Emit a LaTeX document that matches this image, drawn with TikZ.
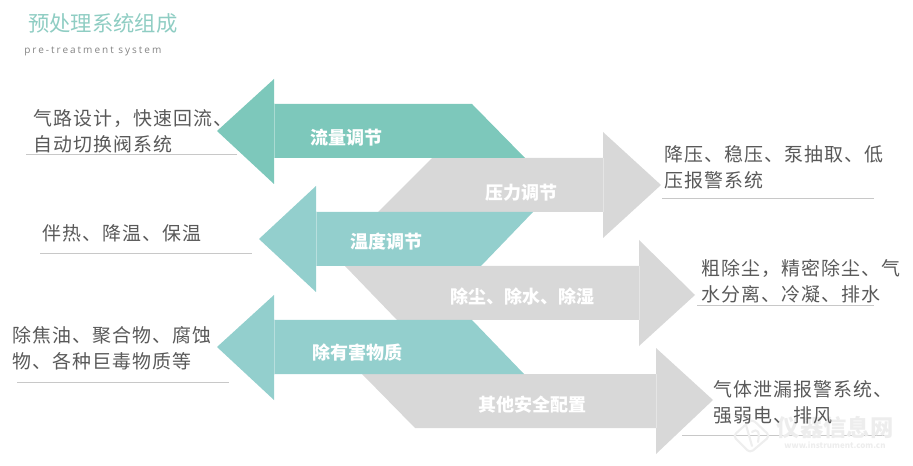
\documentclass[tikz,border=0pt]{standalone}
\usepackage{fontspec}
\setmainfont{Noto Sans CJK SC}[LetterSpace=5.5]
\newfontfamily\cjktight{Noto Sans CJK SC}
\newfontfamily\latinsub{Open Sans}[LetterSpace=20]
\definecolor{cgreen}{HTML}{7DC8BB}
\definecolor{cteal}{HTML}{93CFCD}
\definecolor{cgray}{HTML}{D8D8D8}
\definecolor{ctext}{HTML}{595959}
\definecolor{crule}{HTML}{C8C8C8}
\definecolor{ctitle}{HTML}{8FCDC3}
\tikzset{
  x=0.75pt,y=-0.75pt,
  body/.style={anchor=west,inner sep=0pt,align=left,text=ctext,font=\fontsize{14.2}{19.5}\selectfont},
  lab/.style={inner sep=0pt,text=white,font=\cjktight\fontsize{13.5}{16}\selectfont\bfseries},
  seam/.style={draw=white,draw opacity=.35,line width=.5pt},
  rulel/.style={draw=crule,line width=.75pt},
  wmark/.style={draw=gray!13,line width=1.6pt,line cap=round,line join=round},
}
\begin{document}
\begin{tikzpicture}
\useasboundingbox (0,0) rectangle (913,466);
% gray arrows
\fill[cgray] (432,158) -- (603,158) -- (603,132) -- (661,185) -- (603,238) -- (603,212) -- (378,212) -- cycle;
\draw[seam] (603,158) -- (603,212);
\fill[cgray] (345,266) -- (639,266) -- (639,240) -- (695,295) -- (639,346) -- (639,320) -- (397,320) -- cycle;
\draw[seam] (639,266) -- (639,320);
\fill[cgray] (362,374) -- (656,374) -- (656,348) -- (713,400) -- (656,454) -- (656,428) -- (415,428) -- cycle;
\draw[seam] (656,374) -- (656,428);
% coloured arrows
\fill[cgreen] (217,131) -- (274,79) -- (274,104) -- (472,104) -- (525,158) -- (274,158) -- (274,184) -- cycle;
\draw[seam] (274,104) -- (274,158);
\fill[cteal] (259,239) -- (316,186) -- (316,212) -- (533,212) -- (481,266) -- (316,266) -- (316,292) -- cycle;
\draw[seam] (316,212) -- (316,266);
\fill[cteal] (217,347) -- (274,295) -- (274,320) -- (472,320) -- (524,374) -- (274,374) -- (274,400) -- cycle;
\draw[seam] (274,320) -- (274,374);
% rules
\draw[rulel] (26,154.5) -- (237,154.5);
\draw[rulel] (40,254) -- (252,254);
\draw[rulel] (17,382) -- (229,382);
\draw[rulel] (662,198.5) -- (874,198.5);
\draw[rulel] (697,306) -- (874,306);
\draw[rulel] (682,435.5) -- (890,435.5);
% watermark (under the text)
\draw[wmark,rounded corners=3pt] (752,419) -- (770,436) -- (750,453) -- (733,436) -- cycle;
\draw[wmark] (746,425) -- (752,446) (752,432) .. controls (758,428) and (760,432) .. (758,442);
\node[inner sep=0pt,text=gray!14,font=\cjktight\fontsize{17.5}{19}\selectfont\bfseries] (wm) at (835,428) {仪器信息网};
\node[inner sep=0pt,text=gray!14,font=\cjktight\fontsize{6}{7}\selectfont\bfseries] (wmurl) at (835,445) {www.instrument.com.cn};
% titles
\node[anchor=west,inner sep=0pt,text=ctitle,font=\cjktight\fontsize{16}{18}\selectfont] (title) at (28,23) {预处理系统组成};
\node[anchor=west,inner sep=0pt,text=ctext!75,font=\latinsub\fontsize{7.5}{9}\selectfont] (subtitle) at (24,51) {pre-treatment system};
% arrow labels
\node[lab] (l1) at (346.5,138) {流量调节};
\node[lab] (l2) at (521.5,192.5) {压力调节};
\node[lab] (l3) at (386.5,242) {温度调节};
\node[lab] (l4) at (522,297) {除尘、除水、除湿};
\node[lab] (l5) at (357,353) {除有害物质};
\node[lab] (l6) at (532,405) {其他安全配置};
% descriptions
\node[body] (d1) at (33,131) {气路设计，快速回流、\\自动切换阀系统};
\node[body] (d2) at (42,233.5) {伴热、降温、保温};
\node[body] (d3) at (12,348) {除焦油、聚合物、腐蚀\\物、各种巨毒物质等};
\node[body] (d4) at (664,167.5) {降压、稳压、泵抽取、低\\压报警系统};
\node[body] (d5) at (701,281.5) {粗除尘，精密除尘、气\\水分离、冷凝、排水};
\node[body] (d6) at (713,402.5) {气体泄漏报警系统、\\强弱电、排风};
\end{tikzpicture}
\end{document}
